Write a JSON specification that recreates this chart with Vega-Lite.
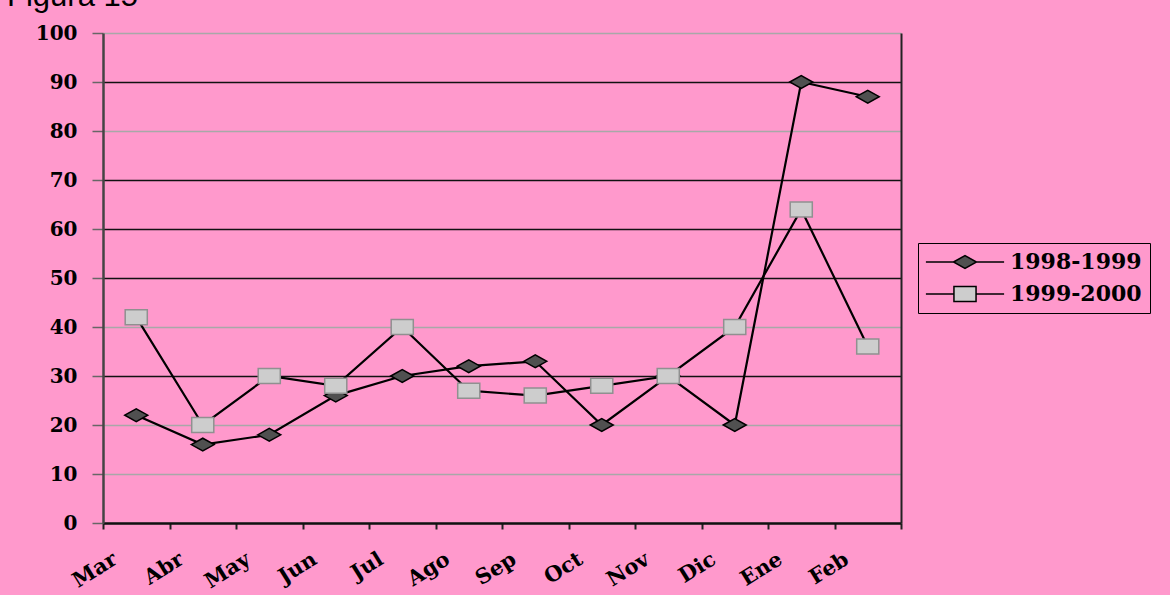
{
  "$schema": "https://vega.github.io/schema/vega-lite/v6.json",
  "width": 798,
  "height": 490,
  "autosize": {"type": "none"},
  "padding": {"left": 103, "top": 33, "right": 269, "bottom": 72},
  "background": "#FF99CC",
  "title": {
    "text": "Figura 15",
    "anchor": "start",
    "frame": "group",
    "font": "Liberation Sans",
    "fontSize": 31,
    "fontWeight": "normal",
    "color": "#000000",
    "baseline": "alphabetic",
    "dx": -96,
    "dy": 32,
    "offset": 18
  },
  "data": {
    "values": [
      {"month": "Mar", "series": "1998-1999", "value": 22},
      {"month": "Abr", "series": "1998-1999", "value": 16},
      {"month": "May", "series": "1998-1999", "value": 18},
      {"month": "Jun", "series": "1998-1999", "value": 26},
      {"month": "Jul", "series": "1998-1999", "value": 30},
      {"month": "Ago", "series": "1998-1999", "value": 32},
      {"month": "Sep", "series": "1998-1999", "value": 33},
      {"month": "Oct", "series": "1998-1999", "value": 20},
      {"month": "Nov", "series": "1998-1999", "value": 30},
      {"month": "Dic", "series": "1998-1999", "value": 20},
      {"month": "Ene", "series": "1998-1999", "value": 90},
      {"month": "Feb", "series": "1998-1999", "value": 87},
      {"month": "Mar", "series": "1999-2000", "value": 42},
      {"month": "Abr", "series": "1999-2000", "value": 20},
      {"month": "May", "series": "1999-2000", "value": 30},
      {"month": "Jun", "series": "1999-2000", "value": 28},
      {"month": "Jul", "series": "1999-2000", "value": 40},
      {"month": "Ago", "series": "1999-2000", "value": 27},
      {"month": "Sep", "series": "1999-2000", "value": 26},
      {"month": "Oct", "series": "1999-2000", "value": 28},
      {"month": "Nov", "series": "1999-2000", "value": 30},
      {"month": "Dic", "series": "1999-2000", "value": 40},
      {"month": "Ene", "series": "1999-2000", "value": 64},
      {"month": "Feb", "series": "1999-2000", "value": 36}
    ]
  },
  "encoding": {
    "x": {
      "field": "month",
      "type": "nominal",
      "sort": ["Mar", "Abr", "May", "Jun", "Jul", "Ago", "Sep", "Oct", "Nov", "Dic", "Ene", "Feb"],
      "scale": {"type": "band", "paddingInner": 0, "paddingOuter": 0},
      "axis": {
        "title": null,
        "tickBand": "extent",
        "grid": false,
        "labelAngle": -32,
        "labelFont": "DejaVu Serif",
        "labelFontWeight": "bold",
        "labelFontSize": 21,
        "labelColor": "#000000",
        "labelOffset": -27,
        "labelPadding": 19,
        "tickSize": 6,
        "tickColor": "#222222",
        "tickWidth": 2,
        "domainColor": "#111111",
        "domainWidth": 2.5
      }
    },
    "y": {
      "field": "value",
      "type": "quantitative",
      "scale": {"domain": [0, 100], "nice": false, "zero": true}
    }
  },
  "layer": [
    {
      "mark": {"type": "line", "stroke": "#000000", "strokeWidth": 2.2},
      "encoding": {
        "detail": {"field": "series", "type": "nominal"},
        "y": {
          "field": "value",
          "type": "quantitative",
          "axis": {
            "title": null,
            "values": [0, 10, 20, 30, 40, 50, 60, 70, 80, 90, 100],
            "grid": true,
            "gridColor": {
              "condition": {"test": "indexof([30, 50, 60, 70, 90], datum.value) >= 0", "value": "#111111"},
              "value": "#a8a8a8"
            },
            "gridWidth": 1.5,
            "tickSize": 11,
            "tickColor": "#666666",
            "tickWidth": 1.5,
            "labelPadding": 15,
            "labelFont": "DejaVu Serif",
            "labelFontWeight": "bold",
            "labelFontSize": 20,
            "labelColor": "#000000",
            "domainColor": "#444444",
            "domainWidth": 2.5
          }
        }
      }
    },
    {
      "mark": {"type": "point", "filled": true, "size": 289, "strokeWidth": 1.5, "opacity": 1},
      "encoding": {
        "y": {
          "field": "value",
          "type": "quantitative",
          "axis": {
            "orient": "right",
            "title": null,
            "labels": false,
            "ticks": false,
            "grid": false,
            "domainColor": "#222222",
            "domainWidth": 2
          }
        },
        "shape": {
          "condition": {"test": "datum.series === '1998-1999'", "value": "M -1.35 0 L 0 -0.75 L 1.35 0 L 0 0.75 Z"},
          "value": "M -1.3 -0.88 L 1.3 -0.88 L 1.3 0.88 L -1.3 0.88 Z"
        },
        "stroke": {
          "condition": {"test": "datum.series === '1998-1999'", "value": "#000000"},
          "value": "#909090"
        },
        "fill": {
          "field": "series",
          "type": "nominal",
          "scale": {"domain": ["1998-1999", "1999-2000"], "range": ["#505050", "#cdcdcd"]},
          "legend": {
            "orient": "none",
            "legendX": 815,
            "legendY": 210,
            "title": null,
            "fillColor": "#FF99CC",
            "strokeColor": "#000000",
            "padding": 8,
            "rowPadding": 10,
            "labelFont": "DejaVu Serif",
            "labelFontWeight": "bold",
            "labelFontSize": 22,
            "labelColor": "#000000",
            "symbolSize": 289,
            "symbolStrokeColor": "#000000",
            "symbolStrokeWidth": 1.5,
            "symbolOffset": 28,
            "labelOffset": 34,
            "encoding": {
              "symbols": {
                "shape": {
                  "condition": {
                    "test": "datum.value === '1998-1999'",
                    "value": "M -4.6 0 L -1.35 0 M 1.35 0 L 4.6 0 M -1.35 0 L 0 -0.75 L 1.35 0 L 0 0.75 Z"
                  },
                  "value": "M -4.6 0 L -1.3 0 M 1.3 0 L 4.6 0 M -1.3 -0.88 L 1.3 -0.88 L 1.3 0.88 L -1.3 0.88 Z"
                },
                "stroke": {"value": "#000000"}
              }
            }
          }
        }
      }
    }
  ],
  "resolve": {"axis": {"y": "independent"}},
  "config": {"view": {"stroke": null}}
}
